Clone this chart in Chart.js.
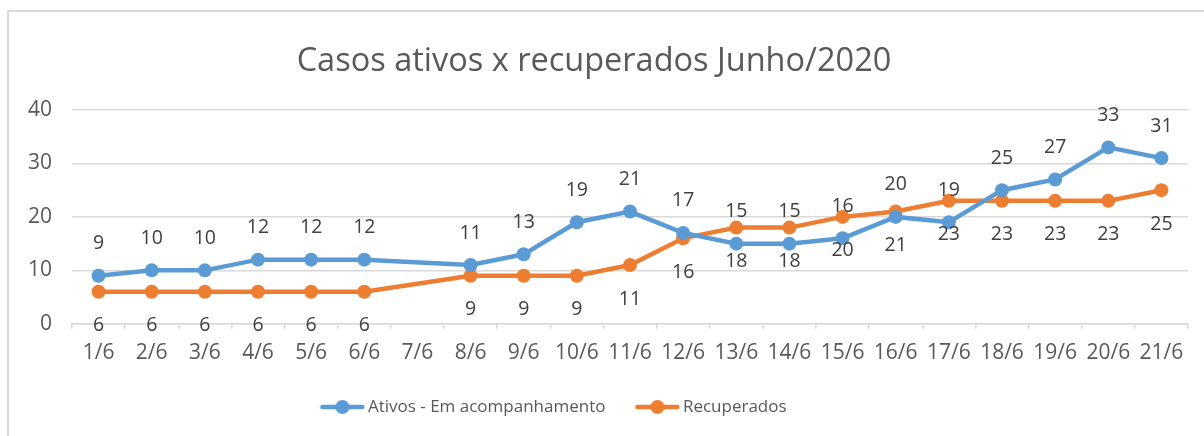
<!DOCTYPE html>
<html>
<head>
<meta charset="UTF-8" />
<title>Casos ativos x recuperados Junho/2020</title>
<script src="https://cdn.jsdelivr.net/npm/chart.js"></script>
<style>
html, body { margin:0; padding:0; background:#fff; }
#wrap { position:relative; width:1204px; height:436px; overflow:hidden; }
#frame { position:absolute; left:7px; top:10px; width:1300px; height:500px; border-left:2px solid #d9d9d9; border-top:2px solid #d9d9d9; }
canvas { position:absolute; left:0; top:0; }
</style>
</head>
<body>
<div id="wrap">
  <div id="frame"></div>
  <canvas id="chart" width="1204" height="436"></canvas>
</div>

<script>
// dias de junho (7/6 sem registro)
const dias = ['1/6','2/6','3/6','4/6','5/6','6/6','7/6','8/6','9/6','10/6','11/6','12/6','13/6','14/6','15/6','16/6','17/6','18/6','19/6','20/6','21/6'];
const ativos = [9,10,10,12,12,12,null,11,13,19,21,17,15,15,16,20,19,25,27,33,31];
const recuperados = [6,6,6,6,6,6,null,9,9,9,11,16,18,18,20,21,23,23,23,23,25];
const yTicks = [0,10,20,30,40];

const AZUL = '#5b9bd5';
const LARANJA = '#ed7d31';
const FONT = "'Open Sans', sans-serif";

// rotulos de valor: azul acima, laranja abaixo
const rotulos = {
  id: 'rotulos',
  afterLayout(chart) {
    // legenda um pouco a esquerda do centro, como no original
    if (chart.legend) { chart.legend.left -= 38; chart.legend.right -= 38; }
  },
  afterDatasetsDraw(chart) {
    const ctx = chart.ctx;
    ctx.save();
    ctx.font = '19.5px ' + FONT;
    ctx.fillStyle = '#404040';
    ctx.textAlign = 'center';
    ctx.textBaseline = 'middle';
    chart.data.datasets.forEach((ds, i) => {
      const off = i === 0 ? -32 : 34;
      chart.getDatasetMeta(i).data.forEach((p, j) => {
        const v = ds.data[j];
        if (v == null) return;
        ctx.fillText(String(v), p.x, p.y + off);
      });
    });
    ctx.restore();
  }
};

function marcador(cor) {
  const c = document.createElement('canvas');
  c.width = 46; c.height = 16;
  const g = c.getContext('2d');
  g.strokeStyle = cor; g.lineWidth = 4.5; g.lineCap = 'round';
  g.beginPath(); g.moveTo(3, 8); g.lineTo(43, 8); g.stroke();
  g.fillStyle = cor;
  g.beginPath(); g.arc(23, 8, 7, 0, Math.PI * 2); g.fill();
  return c;
}
const marcadores = [marcador(AZUL), marcador(LARANJA)];

new Chart(document.getElementById('chart'), {
  type: 'line',
  data: {
    labels: dias,
    datasets: [{
      label: 'Ativos - Em acompanhamento',
      data: ativos,
      borderColor: AZUL,
      backgroundColor: AZUL,
      borderWidth: 4.5,
      pointRadius: 7,
      pointHoverRadius: 7,
      pointBorderWidth: 0,
      spanGaps: true,
      tension: 0
    }, {
      label: 'Recuperados',
      data: recuperados,
      borderColor: LARANJA,
      backgroundColor: LARANJA,
      borderWidth: 4.5,
      pointRadius: 7,
      pointHoverRadius: 7,
      pointBorderWidth: 0,
      spanGaps: true,
      tension: 0
    }]
  },
  options: {
    responsive: false,
    animation: false,
    layout: { padding: { left: 0, right: 16, top: 0, bottom: 10.5 } },
    plugins: {
      title: {
        display: true,
        text: 'Casos ativos x recuperados Junho/2020',
        color: '#595959',
        font: { family: FONT, size: 32.5, weight: 'normal' },
        padding: { top: 42.5, bottom: 28.5 }
      },
      legend: {
        position: 'bottom',
        labels: {
          color: '#595959',
          font: { family: FONT, size: 17 },
          usePointStyle: true,
          pointStyleWidth: 34,
          padding: 35,
          generateLabels: (chart) => chart.data.datasets.map((ds, i) => ({
            text: ds.label,
            pointStyle: marcadores[i],
            fontColor: '#595959',
            datasetIndex: i,
            lineWidth: 0,
            strokeStyle: 'transparent',
            fillStyle: 'transparent'
          }))
        }
      },
      tooltip: { enabled: false }
    },
    scales: {
      x: {
        offset: true,
        afterFit: (s) => { s.height -= 14.5; },
        grid: { display: true, drawOnChartArea: false, drawTicks: true, tickLength: 5, color: '#d9d9d9', lineWidth: 1.5, offset: true },
        border: { display: true, color: '#d9d9d9', width: 1.5 },
        ticks: { color: '#595959', font: { family: FONT, size: 21 }, padding: 12, maxRotation: 0, autoSkip: false }
      },
      y: {
        min: 0,
        max: 40,
        afterBuildTicks: (s) => { s.ticks = yTicks.map(v => ({ value: v })); },
        afterFit: (s) => { s.width = 72; },
        grid: { color: '#d9d9d9', lineWidth: 1.5, drawTicks: false },
        border: { display: false },
        ticks: { color: '#595959', font: { family: FONT, size: 21 }, padding: 20 }
      }
    }
  },
  plugins: [rotulos]
});
</script>
</body>
</html>
